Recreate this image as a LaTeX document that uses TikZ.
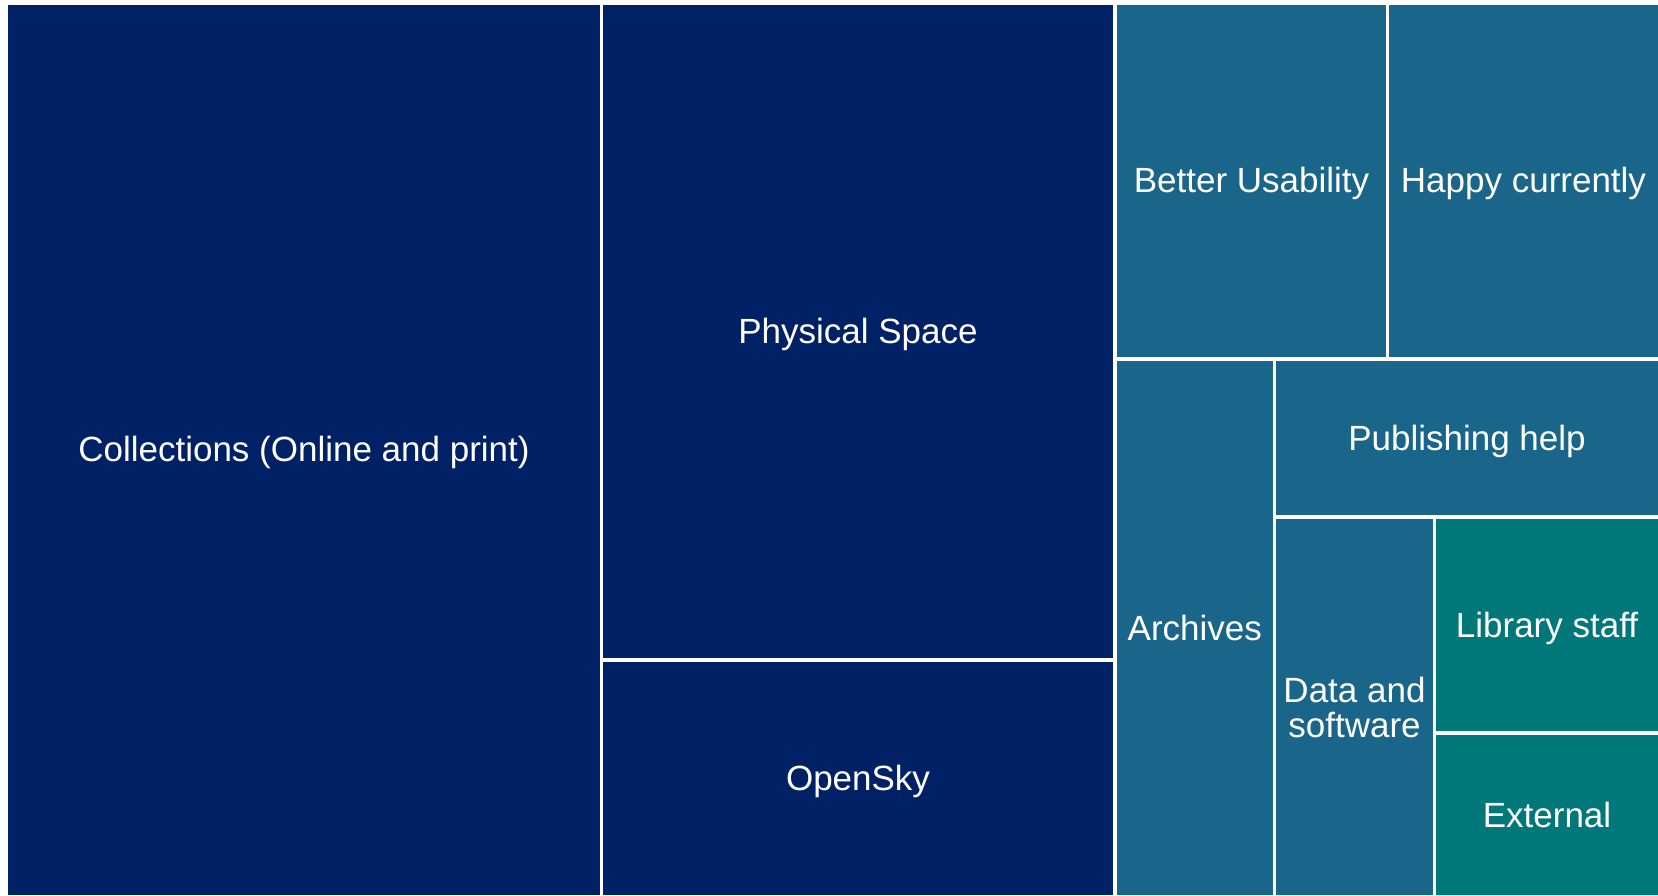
\documentclass[tikz,border=0pt]{standalone}
\usepackage{fontspec}
\setmainfont{Liberation Sans}
\definecolor{navy}{RGB}{1,33,103}
\definecolor{steel}{RGB}{25,102,138}
\definecolor{tealg}{RGB}{0,119,121}
\tikzset{
  tile/.style={inner sep=0pt, outer sep=0pt, align=center, text=white,
    font=\fontsize{35}{35}\selectfont},
  oneline/.style={tile, text height=24pt, text depth=0pt},
}
\begin{document}
\begin{tikzpicture}[x=1pt,y=-1pt]
\useasboundingbox (0,0) rectangle (1658,895);
\fill[white] (0,0) rectangle (1658,895);
\node[oneline, fill=navy, minimum width=592pt, minimum height=890.5pt] (coll) at (304,449.75) {Collections (Online and print)};
\node[oneline, fill=navy, minimum width=510pt, minimum height=653.5pt] (phys) at (858,331.25) {Physical Space};
\node[oneline, fill=navy, minimum width=510pt, minimum height=233pt] (open) at (858,778.5) {OpenSky};
\node[oneline, fill=steel, minimum width=269pt, minimum height=352.5pt] (better) at (1251.5,180.75) {Better Usability};
\node[oneline, fill=steel, minimum width=269pt, minimum height=352.5pt] (happy) at (1523.5,180.75) {Happy currently};
\node[oneline, fill=steel, minimum width=155.5pt, minimum height=534pt] (arch) at (1194.75,628) {Archives};
\node[oneline, fill=steel, minimum width=382pt, minimum height=154pt] (pub) at (1467,438) {Publishing help};
\node[tile, fill=steel, minimum width=157pt, minimum height=376pt] (data) at (1354.5,707) {Data and\\software};
\node[oneline, fill=tealg, minimum width=222pt, minimum height=212pt] (lib) at (1547,625) {Library staff};
\node[oneline, fill=tealg, minimum width=222pt, minimum height=160pt] (ext) at (1547,815) {External};
\end{tikzpicture}
\end{document}
